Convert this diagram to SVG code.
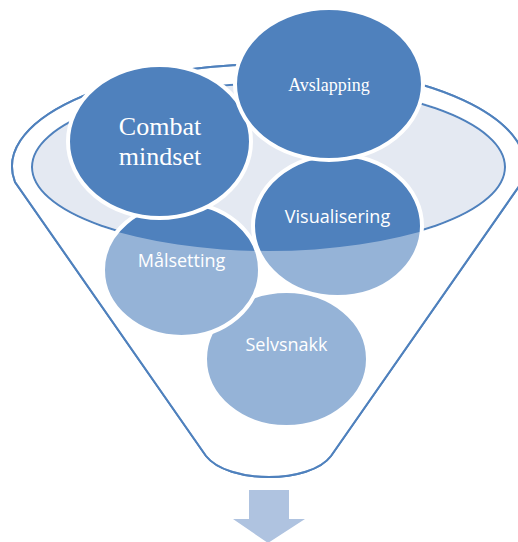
<svg xmlns="http://www.w3.org/2000/svg" width="518" height="542" viewBox="0 0 518 542">
<defs>
<style>
.funnel{fill:#ffffff;stroke:#4f81bd;stroke-width:2}
.funnel-line{fill:none;stroke:#4f81bd;stroke-width:2}
.mouth{fill:#e4e9f2;stroke:#4f81bd;stroke-width:2}
.ball{fill:#4f81bd;stroke:#ffffff;stroke-width:4}
.veil{fill:#ffffff;fill-opacity:0.4;fill-rule:evenodd}
.serif{font-family:"Liberation Serif","Times New Roman",serif;fill:#ffffff;text-anchor:middle}
.sans{font-family:"Open Sans","Liberation Sans",sans-serif;fill:#ffffff;text-anchor:middle;font-size:18px}
.arrow{fill:#afc3e0}
</style>
</defs>
<g id="funnel">
<path class="funnel" d="M 15 182 A 256.5 102 0 1 1 522 182 L 331 456 C 310 484 228 484 206 456 Z"/>
<ellipse class="mouth" cx="268.5" cy="167" rx="236.5" ry="83"/>
</g>
<g id="node-selvsnakk">
<ellipse class="ball" cx="286.5" cy="359" rx="81.5" ry="68"/>
<text class="sans" x="286.5" y="351">Selvsnakk</text>
</g>
<g id="node-malsetting">
<ellipse class="ball" cx="181.5" cy="270" rx="78.5" ry="67"/>
<text class="sans" x="181.5" y="267">Målsetting</text>
</g>
<g id="node-visualisering">
<ellipse class="ball" cx="337.5" cy="226" rx="84.5" ry="71"/>
<text class="sans" x="337.5" y="223">Visualisering</text>
</g>
<g id="funnel-body">
<path class="veil" d="M 15 182 A 256.5 102 0 1 1 522 182 L 331 456 C 310 484 228 484 206 456 Z M 31 167 A 237.5 84 0 1 0 506 167 A 237.5 84 0 1 0 31 167 Z"/>
<path class="funnel-line" d="M 15 182 A 256.5 102 0 1 1 522 182 L 331 456 C 310 484 228 484 206 456 Z"/>
</g>
<g id="node-combat">
<ellipse class="ball" cx="159.5" cy="141.5" rx="91.5" ry="76.5"/>
<text class="serif" x="160" y="135" font-size="26">Combat</text>
<text class="serif" x="160" y="165" font-size="26">mindset</text>
</g>
<g id="node-avslapping">
<ellipse class="ball" cx="329" cy="84" rx="94" ry="76"/>
<text class="serif" x="329" y="91" font-size="18">Avslapping</text>
</g>
<g id="connectors">
<polygon class="arrow" points="249,490 289,490 289,519 305,519 268,543 233,519 249,519"/>
</g>
</svg>
